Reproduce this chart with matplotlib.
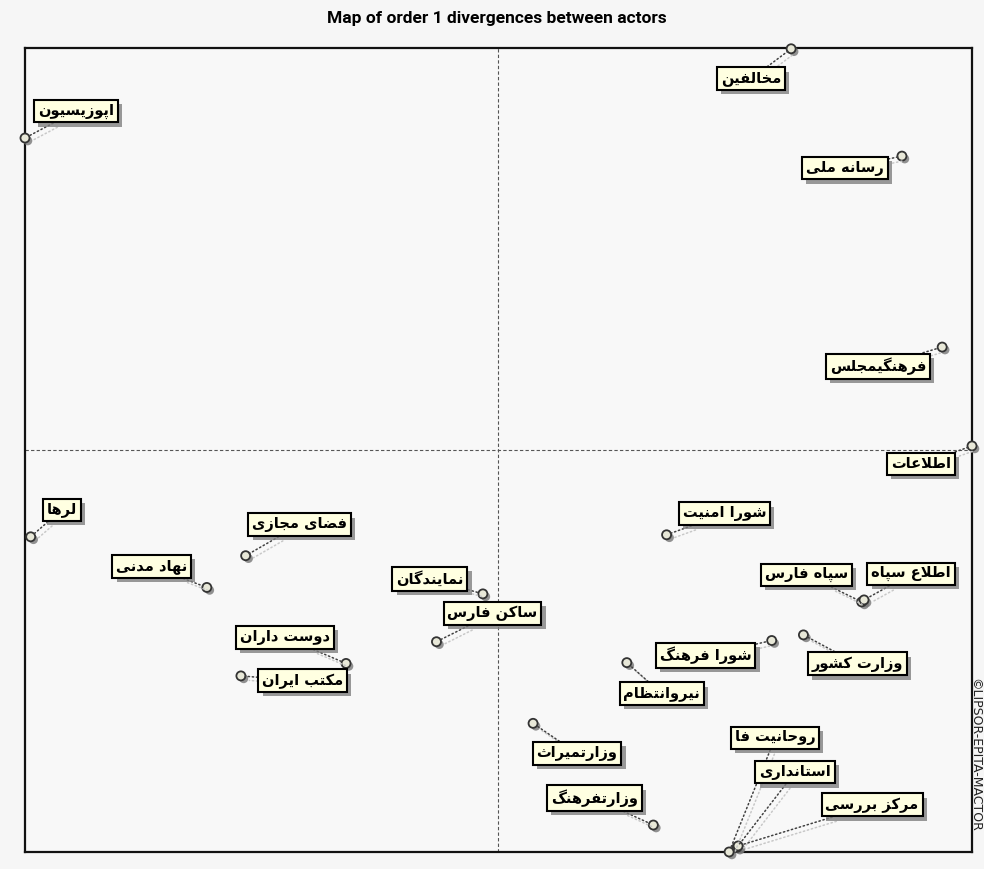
import matplotlib

matplotlib.use("Agg")

import matplotlib.pyplot as plt
import matplotlib.patheffects as pe

# actors (logical Persian text) and their map coordinates
actors = [
    "اپوزیسیون", "مخالفین", "رسانه ملی", "فرهنگیمجلس", "اطلاعات",
    "لرها", "فضای مجازی", "نهاد مدنی", "نمایندگان", "ساکن فارس",
    "دوست داران", "مکتب ایران", "شورا امنیت", "سپاه فارس", "اطلاع سپاه",
    "شورا فرهنگ", "وزارت کشور", "نیروانتظام", "وزارتمیراث", "وزارتفرهنگ",
    "روحانیت فا", "استانداری", "مرکز بررسی",
]
x_vals = [
    -1.000, 0.618, 0.852, 0.937, 1.000,
    -0.988, -0.534, -0.616, -0.033, -0.131,
    -0.322, -0.544, 0.355, 0.767, 0.772,
    0.577, 0.644, 0.271, 0.073, 0.327,
    0.487, 0.504, 0.506,
]
y_vals = [
    0.776, 0.998, 0.731, 0.256, 0.010,
    -0.216, -0.263, -0.342, -0.358, -0.477,
    -0.531, -0.562, -0.211, -0.378, -0.373,
    -0.474, -0.460, -0.529, -0.680, -0.933,
    -1.000, -0.988, -0.985,
]

# label placement, offset in pixels from the point (x right, y up)
label_offsets = [
    (51, 27), (-40, -30), (-57, -12), (-64, -19), (-51, -18),
    (31, 27), (54, 31), (-55, 21), (-53, 15), (56, 28),
    (-61, 26), (62, -5), (58, 21), (-55, 27), (47, 26),
    (-66, -15), (54, -29), (35, -31), (44, -30), (-59, 27),
    (46, 114), (58, 75), (134, 41),
]

# --- minimal Persian shaping (matplotlib has no complex text layout) ---
FORMS = {
    "ا": (0xFE8D, 0xFE8E, None, None), "آ": (0xFE81, 0xFE82, None, None),
    "ب": (0xFE8F, 0xFE90, 0xFE91, 0xFE92), "پ": (0xFB56, 0xFB57, 0xFB58, 0xFB59),
    "ت": (0xFE95, 0xFE96, 0xFE97, 0xFE98), "ث": (0xFE99, 0xFE9A, 0xFE9B, 0xFE9C),
    "ج": (0xFE9D, 0xFE9E, 0xFE9F, 0xFEA0), "چ": (0xFB7A, 0xFB7B, 0xFB7C, 0xFB7D),
    "ح": (0xFEA1, 0xFEA2, 0xFEA3, 0xFEA4), "خ": (0xFEA5, 0xFEA6, 0xFEA7, 0xFEA8),
    "د": (0xFEA9, 0xFEAA, None, None), "ذ": (0xFEAB, 0xFEAC, None, None),
    "ر": (0xFEAD, 0xFEAE, None, None), "ز": (0xFEAF, 0xFEB0, None, None),
    "ژ": (0xFB8A, 0xFB8B, None, None),
    "س": (0xFEB1, 0xFEB2, 0xFEB3, 0xFEB4), "ش": (0xFEB5, 0xFEB6, 0xFEB7, 0xFEB8),
    "ص": (0xFEB9, 0xFEBA, 0xFEBB, 0xFEBC), "ض": (0xFEBD, 0xFEBE, 0xFEBF, 0xFEC0),
    "ط": (0xFEC1, 0xFEC2, 0xFEC3, 0xFEC4), "ظ": (0xFEC5, 0xFEC6, 0xFEC7, 0xFEC8),
    "ع": (0xFEC9, 0xFECA, 0xFECB, 0xFECC), "غ": (0xFECD, 0xFECE, 0xFECF, 0xFED0),
    "ف": (0xFED1, 0xFED2, 0xFED3, 0xFED4), "ق": (0xFED5, 0xFED6, 0xFED7, 0xFED8),
    "ک": (0xFB8E, 0xFB8F, 0xFB90, 0xFB91), "گ": (0xFB92, 0xFB93, 0xFB94, 0xFB95),
    "ل": (0xFEDD, 0xFEDE, 0xFEDF, 0xFEE0), "م": (0xFEE1, 0xFEE2, 0xFEE3, 0xFEE4),
    "ن": (0xFEE5, 0xFEE6, 0xFEE7, 0xFEE8), "ه": (0xFEE9, 0xFEEA, 0xFEEB, 0xFEEC),
    "و": (0xFEED, 0xFEEE, None, None), "ی": (0xFBFC, 0xFBFD, 0xFBFE, 0xFBFF),
}


def _dual(ch):
    return ch in FORMS and FORMS[ch][2] is not None


def shape(text):
    chars = list(text)
    out = []
    i = 0
    while i < len(chars):
        ch = chars[i]
        if ch not in FORMS:
            out.append(ch)
            i += 1
            continue
        prev_joins = i > 0 and _dual(chars[i - 1])
        if ch == "ل" and i + 1 < len(chars) and chars[i + 1] == "ا":
            out.append(chr(0xFEFC if prev_joins else 0xFEFB))
            i += 2
            continue
        next_joins = _dual(ch) and i + 1 < len(chars) and chars[i + 1] in FORMS
        iso, fin, ini, med = FORMS[ch]
        if prev_joins and next_joins:
            code = med
        elif prev_joins:
            code = fin
        elif next_joins:
            code = ini
        else:
            code = iso
        out.append(chr(code))
        i += 1
    return "".join(reversed(out))


fig = plt.figure(figsize=(9.84, 8.69), dpi=100, facecolor="#f6f6f6")
ax = fig.add_axes([0.0254, 0.0196, 0.9624, 0.9252])
ax.set_facecolor("#f8f8f8")
ax.set_xlim(-1, 1)
ax.set_ylim(-1, 1)
ax.set_xticks([])
ax.set_yticks([])
for spine in ax.spines.values():
    spine.set_linewidth(1.6)
    spine.set_color("#111111")

ax.axvline(0, color="#555555", linestyle=(0, (3, 2)), linewidth=0.8, zorder=1)
ax.axhline(0, color="#555555", linestyle=(0, (3, 2)), linewidth=0.8, zorder=1)

line_fx = [pe.SimpleLineShadow(offset=(3, -3), shadow_color="#c8c8c8", alpha=1), pe.Normal()]
box_fx = [pe.withSimplePatchShadow(offset=(3, -3), shadow_rgbFace="#808080", alpha=0.8)]

for name, x, y, (dx, dy) in zip(actors, x_vals, y_vals, label_offsets):
    ann = ax.annotate(
        shape(name), xy=(x, y), xytext=(dx, dy), textcoords="offset pixels",
        ha="center", va="center", fontsize=10.5, fontweight="bold",
        family="DejaVu Sans", color="black", zorder=5, annotation_clip=False,
        bbox=dict(boxstyle="square,pad=0.26", fc="#ffffe1", ec="black", lw=1.5),
        arrowprops=dict(arrowstyle="-", linestyle=(0, (0.9, 1.8)), color="#404040",
                        lw=1.1, shrinkA=0, shrinkB=3, path_effects=line_fx),
    )
    ann.get_bbox_patch().set_path_effects(box_fx)

ax.plot(x_vals, y_vals, linestyle="none", marker="o", markersize=6.5,
        mfc="#e8e8d8", mec="#333333", mew=1.3, clip_on=False, zorder=4,
        path_effects=[pe.SimplePatchShadow(offset=(2, -2), shadow_rgbFace="#777777", alpha=0.8),
                      pe.Normal()])

fig.text(0.505, 0.979, "Map of order 1 divergences between actors",
         ha="center", va="center", fontsize=12.5, fontweight="bold",
         family=["Roboto", "DejaVu Sans"])
fig.text(0.991, 0.131, "©LIPSOR-EPITA-MACTOR", rotation=-90,
         ha="center", va="center", fontsize=9, family="DejaVu Sans", color="#222222")

fig.savefig("out.png", dpi=100, facecolor=fig.get_facecolor())
